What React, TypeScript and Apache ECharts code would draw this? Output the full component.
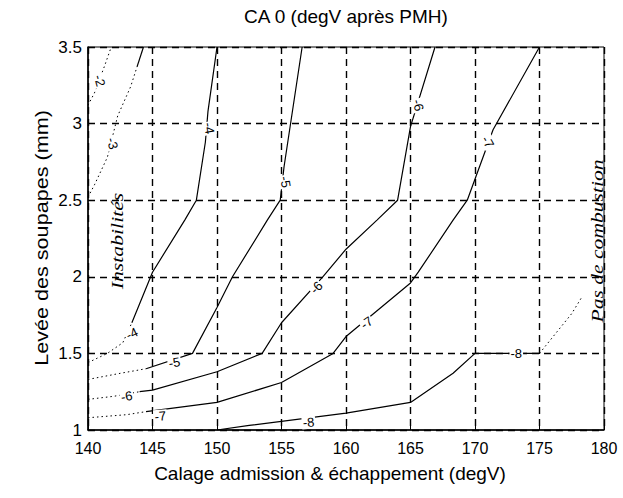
import React, { useEffect, useRef } from "react";
import * as echarts from "echarts";

// ---- data ----
const xTicks = [140, 145, 150, 155, 160, 165, 170, 175, 180];
const yTicks = [1, 1.5, 2, 2.5, 3, 3.5];

// contour -2 (only dotted)
const c2Dotted = [[140.0, 3.12], [140.5, 3.2], [141.3, 3.38], [141.8, 3.5]];
// contour -3
const c3Dotted = [[140.0, 2.52], [140.5, 2.6], [141.5, 2.78], [142.3, 3.05], [143.3, 3.24], [143.8, 3.37]];
const c3Solid = [[143.8, 3.37], [144.3, 3.5]];
// contour -4
const c4Dotted = [[140.0, 1.44], [141.5, 1.5], [142.7, 1.57], [143.4, 1.7]];
const c4Solid = [[143.4, 1.7], [145, 2.03], [147.5, 2.37], [148.4, 2.5], [149.1, 2.88], [149.3, 3.08], [150, 3.5]];
// contour -5
const c5Dotted = [[140.0, 1.33], [142.5, 1.37], [144.5, 1.4]];
const c5Solid = [[144.5, 1.4], [148.1, 1.5], [150, 1.8], [151.2, 2.0], [153.9, 2.37], [154.9, 2.5], [155.2, 2.72], [156.6, 3.5]];
// contour -6
const c6Dotted = [[140.0, 1.2], [142, 1.22], [144, 1.25]];
const c6Solid = [[144, 1.25], [145, 1.26], [150, 1.38], [153.5, 1.5], [155, 1.7], [158.2, 2.0], [160, 2.18], [162.4, 2.37], [164, 2.5], [165, 2.98], [166.9, 3.5]];
// contour -7
const c7Dotted = [[140.0, 1.08], [143, 1.1], [144.5, 1.12]];
const c7Solid = [[144.5, 1.12], [150, 1.18], [155, 1.31], [159, 1.5], [160, 1.61], [165, 1.96], [165.6, 2.03], [168.3, 2.37], [169.4, 2.5], [171.4, 2.96], [175, 3.5]];
// contour -8
const c8Solid = [[150, 1.0], [152.5, 1.03], [160, 1.11], [165, 1.18], [168.3, 1.37], [170, 1.5], [175, 1.5]];
const c8Dotted = [[175, 1.5], [177.5, 1.76], [178.3, 1.87]];

// contour labels: text, x, y, rotation (deg)
const labelTexts = ["-2", "-3", "-4", "-4", "-5", "-5", "-6", "-6", "-6", "-7", "-7", "-7", "-8", "-8"];
const labelX = [140.9, 141.9, 143.4, 149.4, 146.7, 155.3, 143.0, 157.7, 165.6, 145.6, 161.6, 171.0, 157.1, 173.2];
const labelY = [3.28, 2.87, 1.63, 2.97, 1.44, 2.62, 1.22, 1.93, 3.12, 1.09, 1.70, 2.88, 1.05, 1.5];
const labelRot = [-75, -75, 25, -80, 10, -80, 10, 45, -75, 5, 35, -60, 5, 0];

const solidSets = [c3Solid, c4Solid, c5Solid, c6Solid, c7Solid, c8Solid];
const dottedSets = [c2Dotted, c3Dotted, c4Dotted, c5Dotted, c6Dotted, c7Dotted, c8Dotted];

const SANS = "'Liberation Sans', Arial, sans-serif";
const SERIF = "'Liberation Serif', 'Times New Roman', serif";

export default function App() {
  const ref = useRef<HTMLDivElement>(null);
  useEffect(() => {
    if (!ref.current) return;
    const chart = echarts.init(ref.current, undefined, { renderer: "svg" });
    const series: any[] = [];
    solidSets.forEach((d) =>
      series.push({
        type: "line",
        data: d,
        symbol: "none",
        lineStyle: { color: "#000", width: 1.2, type: "solid" },
        silent: true,
        z: 3,
      })
    );
    dottedSets.forEach((d) =>
      series.push({
        type: "line",
        data: d,
        symbol: "none",
        lineStyle: { color: "#000", width: 1, type: [1.5, 3] },
        silent: true,
        z: 3,
      })
    );
    series.push({
      type: "scatter",
      symbolSize: 0.1,
      itemStyle: { color: "rgba(0,0,0,0)" },
      silent: true,
      z: 5,
      data: labelTexts.map((t, i) => ({
        value: [labelX[i], labelY[i]],
        label: {
          show: true,
          formatter: t,
          position: "inside",
          rotate: labelRot[i],
          color: "#000",
          opacity: 1,
          textBorderWidth: 0,
          textBorderColor: "transparent",
          fontSize: 13,
          fontFamily: SANS,
          backgroundColor: "#fff",
          padding: [0, 1],
        },
      })),
    });

    const axisCommon = {
      axisLine: { show: true, lineStyle: { color: "#000", width: 1.5 } },
      axisTick: { show: true, inside: true, length: 4, lineStyle: { color: "#000" } },
      splitLine: { show: true, lineStyle: { color: "#000", width: 1.4, type: [7, 5] } },
    };

    chart.setOption({
      animation: false,
      backgroundColor: "#fff",
      grid: { left: 88, right: 19, top: 47, bottom: 68, show: true, borderColor: "#000", borderWidth: 1, backgroundColor: "transparent" },
      xAxis: {
        type: "value",
        min: xTicks[0],
        max: xTicks[xTicks.length - 1],
        interval: 5,
        ...axisCommon,
        axisLabel: { color: "#000", fontSize: 16, fontFamily: SANS, margin: 10 },
      },
      yAxis: {
        type: "value",
        min: yTicks[0],
        max: yTicks[yTicks.length - 1],
        interval: 0.5,
        ...axisCommon,
        axisLabel: { color: "#000", fontSize: 17, fontFamily: SANS, margin: 6 },
      },
      graphic: [
        { type: "text", x: 346, y: 16, style: { text: "CA 0 (degV après PMH)", fontSize: 19, fontFamily: SANS, fill: "#000", align: "center", verticalAlign: "middle" } },
        { type: "text", x: 330, y: 473, style: { text: "Calage admission & échappement (degV)", fontSize: 19, fontFamily: SANS, fill: "#000", align: "center", verticalAlign: "middle" } },
        { type: "text", x: 42, y: 238, rotation: Math.PI / 2, scaleX: 1.2, style: { text: "Levée des soupapes (mm)", fontSize: 18, fontFamily: SANS, fill: "#000", align: "center", verticalAlign: "middle" } },
        { type: "text", x: 117, y: 241, rotation: Math.PI / 2, scaleX: 1.28, z: 10, style: { text: "Instabilités", fontSize: 17, fontFamily: SERIF, fontStyle: "italic", fill: "#000", align: "center", verticalAlign: "middle" } },
        { type: "text", x: 597, y: 241, rotation: Math.PI / 2, scaleX: 1.27, z: 10, style: { text: "Pas de combustion", fontSize: 17, fontFamily: SERIF, fontStyle: "italic", fill: "#000", align: "center", verticalAlign: "middle" } },
      ],
      series,
    });
    return () => chart.dispose();
  }, []);
  return <div ref={ref} style={{ position: "fixed", left: 0, top: 0, width: 623, height: 498 }} />;
}
